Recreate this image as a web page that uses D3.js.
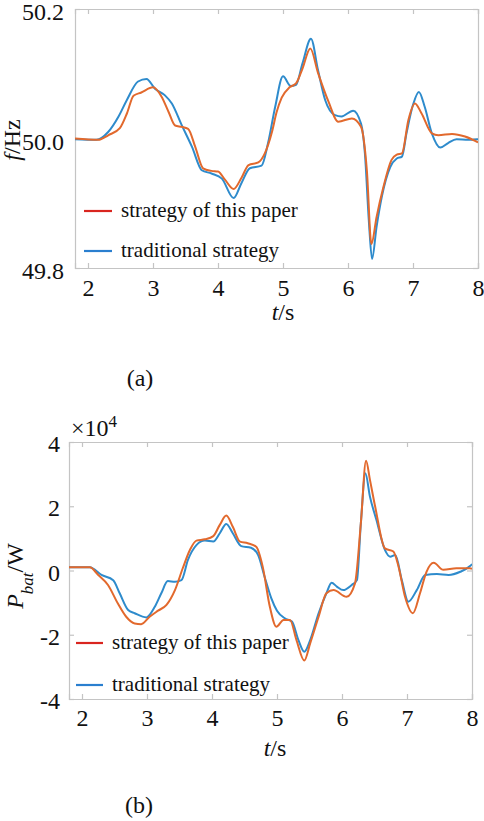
<!DOCTYPE html>
<html><head><meta charset="utf-8">
<script src="https://cdn.jsdelivr.net/npm/d3@7"></script>
<style>
body{margin:0;background:#fff;}
svg text{font-family:"Liberation Serif","Times New Roman",serif;fill:#111;}
</style></head>
<body><svg id="c" width="484" height="821" font-family="Liberation Serif, Times New Roman, serif"></svg>
<script>
// ---------- data ----------
const xTicks = [2,3,4,5,6,7,8];
const fTicks = [49.8,50.0,50.2];
const pTicks = [-4,-2,0,2,4];
const legendLabels = ["strategy of this paper","traditional strategy"];

// (a) frequency, strategy of this paper
const fPaperT = [1.8,2.16,2.31,2.49,2.6,2.7,2.82,3.0,3.13,3.24,3.34,3.44,3.54,3.65,3.77,3.9,4.0,4.11,4.24,4.36,4.47,4.62,4.72,4.83,4.9,4.98,5.1,5.2,5.3,5.42,5.54,5.7,5.85,6.06,6.2,6.29,6.36,6.44,6.54,6.67,6.75,6.83,6.93,7.03,7.13,7.29,7.39,7.6,7.8,8.0];
const fPaperV = [50.0,49.998,50.005,50.016,50.039,50.066,50.071,50.079,50.065,50.041,50.02,50.018,50.015,49.987,49.954,49.95,49.949,49.936,49.922,49.939,49.959,49.963,49.977,50.01,50.04,50.063,50.079,50.085,50.108,50.139,50.101,50.057,50.026,50.031,50.018,49.951,49.837,49.879,49.923,49.967,49.975,49.977,50.029,50.054,50.039,50.008,50.005,50.007,50.003,49.994];
// (a) frequency, traditional strategy
const fTradT = [1.8,2.13,2.31,2.47,2.6,2.77,2.9,3.03,3.18,3.29,3.44,3.6,3.75,3.9,4.06,4.24,4.36,4.49,4.67,4.77,4.88,5.0,5.12,5.2,5.3,5.43,5.54,5.65,5.8,5.9,6.08,6.2,6.26,6.32,6.37,6.44,6.52,6.65,6.75,6.83,6.9,7.0,7.09,7.18,7.29,7.42,7.54,7.67,7.85,8.0];
const fTradV = [49.999,49.998,50.01,50.034,50.06,50.088,50.092,50.077,50.067,50.054,50.021,49.987,49.951,49.946,49.938,49.908,49.931,49.954,49.958,49.993,50.049,50.096,50.081,50.083,50.116,50.154,50.105,50.059,50.036,50.034,50.043,50.023,49.977,49.874,49.814,49.864,49.91,49.956,49.969,49.972,50.008,50.052,50.072,50.049,50.008,49.986,49.993,49.999,49.998,49.999];

// (b) battery power (x10^4 W), strategy of this paper
const pPaperT = [1.8,2.12,2.25,2.4,2.55,2.68,2.81,2.91,3.04,3.17,3.3,3.43,3.55,3.66,3.76,3.89,4.02,4.12,4.22,4.32,4.43,4.55,4.68,4.78,4.89,4.99,5.1,5.2,5.3,5.42,5.51,5.64,5.76,5.87,6.07,6.2,6.29,6.37,6.43,6.51,6.66,6.79,6.87,6.97,7.09,7.2,7.3,7.41,7.56,7.76,7.97,8.0];
const pPaperV = [0.1,0.1,-0.14,-0.45,-1.02,-1.44,-1.65,-1.67,-1.44,-1.25,-1.07,-0.61,0.07,0.64,0.93,0.97,1.07,1.42,1.71,1.36,0.9,0.85,0.74,0.12,-1.13,-1.75,-1.54,-1.54,-2.17,-2.8,-2.27,-1.44,-0.71,-0.61,-0.82,-0.4,1.47,3.42,2.82,1.99,0.69,0.59,0.12,-0.82,-1.33,-0.71,-0.04,0.24,0.02,0.07,0.07,0.05];
// (b) battery power, traditional strategy
const pTradT = [1.8,2.12,2.3,2.48,2.58,2.71,2.81,2.99,3.12,3.22,3.32,3.43,3.53,3.63,3.76,3.89,4.02,4.12,4.22,4.32,4.45,4.6,4.71,4.81,4.91,5.0,5.12,5.23,5.33,5.42,5.51,5.64,5.76,5.84,5.92,6.02,6.15,6.23,6.29,6.36,6.43,6.53,6.66,6.74,6.82,6.92,7.02,7.15,7.28,7.46,7.64,7.82,7.97,8.0];
const pTradV = [0.1,0.1,-0.14,-0.3,-0.71,-1.23,-1.33,-1.46,-1.13,-0.71,-0.33,-0.35,-0.3,0.33,0.79,0.93,0.9,1.16,1.45,1.16,0.76,0.71,0.48,-0.2,-0.85,-1.25,-1.49,-1.59,-2.17,-2.53,-2.17,-1.33,-0.71,-0.38,-0.5,-0.61,-0.45,-0.3,1.47,3.03,2.3,1.57,0.64,0.43,0.48,-0.3,-0.97,-0.61,-0.14,-0.11,-0.14,-0.04,0.14,0.2];

// ---------- style ----------
const cPaper = "#e2692d", cTrad = "#2e8bcc";
const cLegPaper = "#d9251f", cLegTrad = "#2a7fcf";
const boxColor = "#c4c4c4";
const FONT = "'Liberation Serif','Times New Roman',serif";

const svg = d3.select("#c");

function panel(o){
  const g = svg.append("g");
  const x = d3.scaleLinear().domain([1.8,8]).range([o.l,o.r]);
  const y = d3.scaleLinear().domain(o.dom).range([o.b,o.t]);
  const ax = [
    g.append("g").attr("transform",`translate(0,${o.b})`).call(d3.axisBottom(x).tickValues(xTicks).tickSize(-5).tickFormat(d=>d)),
    g.append("g").attr("transform",`translate(0,${o.t})`).call(d3.axisTop(x).tickValues(xTicks).tickSize(-5).tickFormat("")),
    g.append("g").attr("transform",`translate(${o.l},0)`).call(d3.axisLeft(y).tickValues(o.ticks).tickSize(-5).tickFormat(o.fmt)),
    g.append("g").attr("transform",`translate(${o.r},0)`).call(d3.axisRight(y).tickValues(o.ticks).tickSize(-5).tickFormat(""))
  ];
  ax.forEach(a=>{
    a.attr("font-family",FONT).attr("font-size",null);
    a.select(".domain").attr("stroke",boxColor).attr("stroke-width",1.2);
    a.selectAll(".tick line").attr("stroke",boxColor).attr("stroke-width",1.2);
    a.selectAll("text").style("font-family",FONT).style("font-size","24px").attr("fill","#111");
  });
  ax[0].selectAll(".tick text").attr("y",o.xLabDy).attr("dy","0.35em");
  ax[2].selectAll(".tick text").attr("x",o.yLabDx).attr("dy",o.yLabEm);

  const line = d3.line().x(d=>x(d[0])).y(d=>y(d[1])).curve(d3.curveMonotoneX);
  const clip = "clip"+o.id;
  g.append("clipPath").attr("id",clip).append("rect").attr("x",o.l).attr("y",o.t-2).attr("width",o.r-o.l).attr("height",o.b-o.t+4);
  const lg = g.append("g").attr("clip-path",`url(#${clip})`);
  lg.append("path").datum(d3.zip(o.tradT,o.tradV)).attr("d",line).attr("fill","none").attr("stroke",cTrad).attr("stroke-width",2);
  lg.append("path").datum(d3.zip(o.paperT,o.paperV)).attr("d",line).attr("fill","none").attr("stroke",cPaper).attr("stroke-width",2);

  const lgd = g.append("g");
  [[cLegPaper,legendLabels[0],o.leg.y1],[cLegTrad,legendLabels[1],o.leg.y2]].forEach(([c,t,yy])=>{
    lgd.append("line").attr("x1",o.leg.x1).attr("x2",o.leg.x2).attr("y1",yy).attr("y2",yy).attr("stroke",c).attr("stroke-width",2.2);
    lgd.append("text").attr("x",o.leg.tx).attr("y",yy).attr("dy","0.3em").style("font-family",FONT).style("font-size","21px").text(t);
  });
  const xl = g.append("text").attr("x",o.xlab[0]).attr("y",o.xlab[1]).attr("dy","0.35em").attr("text-anchor","middle").style("font-family",FONT).style("font-size","24px");
  xl.append("tspan").attr("font-style","italic").text("t");
  xl.append("tspan").text("/s");
  return {g,x,y};
}

panel({id:"a",l:75,r:478,t:9,b:268,dom:[49.8,50.2],ticks:fTicks,fmt:d3.format(".1f"),
  xLabDy:20,yLabDx:-11,yLabEm:"0.45em",paperT:fPaperT,paperV:fPaperV,tradT:fTradT,tradV:fTradV,
  leg:{x1:84,x2:112,tx:121,y1:211,y2:251},xlab:[283,312]});
panel({id:"b",l:69,r:472,t:442,b:699,dom:[-4,4],ticks:pTicks,fmt:d=>String(d),
  xLabDy:19,yLabDx:-9,yLabEm:"0.4em",paperT:pPaperT,paperV:pPaperV,tradT:pTradT,tradV:pTradV,
  leg:{x1:76,x2:103,tx:112,y1:643,y2:685},xlab:[275,748]});

// y labels
const ya = svg.append("text").attr("transform","translate(12,140) rotate(-90)").attr("text-anchor","middle").attr("dy","0.35em").style("font-family",FONT).style("font-size","24px");
ya.append("tspan").attr("font-style","italic").text("f");
ya.append("tspan").text("/Hz");

const yb = svg.append("text").attr("transform","translate(15,576) rotate(-90)").attr("text-anchor","middle").attr("dy","0.35em").style("font-family",FONT).style("font-size","24px");
yb.append("tspan").attr("font-style","italic").text("P");
yb.append("tspan").attr("font-style","italic").attr("baseline-shift","sub").style("font-size","17px").text("bat");
yb.append("tspan").text("/W");

// exponent
const ex = svg.append("text").attr("x",71).attr("y",436).style("font-family",FONT).style("font-size","24px");
ex.append("tspan").text("×10");
ex.append("tspan").attr("baseline-shift","super").style("font-size","17px").text("4");

// panel captions
svg.append("text").attr("x",140).attr("y",378).attr("dy","0.35em").attr("text-anchor","middle").style("font-family",FONT).style("font-size","24px").text("(a)");
svg.append("text").attr("x",139).attr("y",805).attr("dy","0.35em").attr("text-anchor","middle").style("font-family",FONT).style("font-size","24px").text("(b)");
</script></body></html>
